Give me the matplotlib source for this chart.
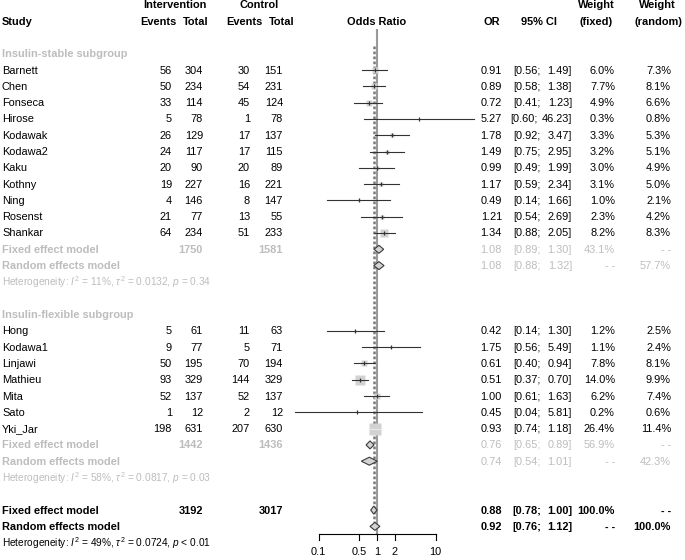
import numpy as np
import matplotlib
matplotlib.use("Agg")
import matplotlib.pyplot as plt

plt.rcParams['font.family'] = ['Liberation Sans', 'DejaVu Sans']
plt.rcParams['mathtext.fontset'] = 'custom'
plt.rcParams['mathtext.rm'] = 'Liberation Sans'
plt.rcParams['mathtext.it'] = 'Liberation Sans:italic'

# ---- data ----
studies1 = ['Barnett', 'Chen', 'Fonseca', 'Hirose', 'Kodawak', 'Kodawa2', 'Kaku',
            'Kothny', 'Ning', 'Rosenst', 'Shankar']
ev_int1 = [56, 50, 33, 5, 26, 24, 20, 19, 4, 21, 64]
tot_int1 = [304, 234, 114, 78, 129, 117, 90, 227, 146, 77, 234]
ev_ctl1 = [30, 54, 45, 1, 17, 17, 20, 16, 8, 13, 51]
tot_ctl1 = [151, 231, 124, 78, 137, 115, 89, 221, 147, 55, 233]
or1 = [0.91, 0.89, 0.72, 5.27, 1.78, 1.49, 0.99, 1.17, 0.49, 1.21, 1.34]
lo1 = [0.56, 0.58, 0.41, 0.60, 0.92, 0.75, 0.49, 0.59, 0.14, 0.54, 0.88]
hi1 = [1.49, 1.38, 1.23, 46.23, 3.47, 2.95, 1.99, 2.34, 1.66, 2.69, 2.05]
wf1 = [6.0, 7.7, 4.9, 0.3, 3.3, 3.2, 3.0, 3.1, 1.0, 2.3, 8.2]
wr1 = [7.3, 8.1, 6.6, 0.8, 5.3, 5.1, 4.9, 5.0, 2.1, 4.2, 8.3]

studies2 = ['Hong', 'Kodawa1', 'Linjawi', 'Mathieu', 'Mita', 'Sato', 'Yki_Jar']
ev_int2 = [5, 9, 50, 93, 52, 1, 198]
tot_int2 = [61, 77, 195, 329, 137, 12, 631]
ev_ctl2 = [11, 5, 70, 144, 52, 2, 207]
tot_ctl2 = [63, 71, 194, 329, 137, 12, 630]
or2 = [0.42, 1.75, 0.61, 0.51, 1.00, 0.45, 0.93]
lo2 = [0.14, 0.56, 0.40, 0.37, 0.61, 0.04, 0.74]
hi2 = [1.30, 5.49, 0.94, 0.70, 1.63, 5.81, 1.18]
wf2 = [1.2, 1.1, 7.8, 14.0, 6.2, 0.2, 26.4]
wr2 = [2.5, 2.4, 8.1, 9.9, 7.4, 0.6, 11.4]

DASH = '- -'
# pooled: (label, tot_int, tot_ctl, OR, lo, hi, w_fixed, w_random)
pooled1 = [('Fixed effect model', 1750, 1581, 1.08, 0.89, 1.30, '43.1%', DASH),
           ('Random effects model', None, None, 1.08, 0.88, 1.32, DASH, '57.7%')]
pooled2 = [('Fixed effect model', 1442, 1436, 0.76, 0.65, 0.89, '56.9%', DASH),
           ('Random effects model', None, None, 0.74, 0.54, 1.01, DASH, '42.3%')]
pooled_all = [('Fixed effect model', 3192, 3017, 0.88, 0.78, 1.00, '100.0%', DASH),
              ('Random effects model', None, None, 0.92, 0.76, 1.12, DASH, '100.0%')]
het1 = r"Heterogeneity: $I^2$ = 11%, $\tau^2$ = 0.0132, $p$ = 0.34"
het2 = r"Heterogeneity: $I^2$ = 58%, $\tau^2$ = 0.0817, $p$ = 0.03"
het_all = r"Heterogeneity: $I^2$ = 49%, $\tau^2$ = 0.0724, $p$ < 0.01"
ticks = [0.1, 0.5, 1, 2, 10]

# ---- layout ----
W, H = 685, 560
fig = plt.figure(figsize=(W / 100, H / 100), dpi=100)
tab = fig.add_axes([0, 0, 1, 1])
tab.set_xlim(0, W)
tab.set_ylim(H, 0)
tab.axis('off')
fp = fig.add_axes([318.5 / W, 0, 117 / W, 1])
fp.set_xscale('log')
fp.set_xlim(0.1, 10)
fp.set_ylim(H, 0)
fp.axis('off')
fp.patch.set_alpha(0)

FS = 7.9
HFS = 7.3
GREY = '#bdbdbd'
PXDEC = 58.5  # pixels per decade on the OR axis


def ry(r):
    return 70 + 16.3 * r


def txt(x, r, s, ha='left', color='black', bold=False, size=FS):
    tab.text(x, ry(r) + 0.5, s, ha=ha, va='center', fontsize=size, color=color,
             fontweight='bold' if bold else 'normal')


# headers
txt(174.5, -4, 'Intervention', ha='center', bold=True)
txt(259.5, -4, 'Control', ha='center', bold=True)
txt(2, -3, 'Study', bold=True)
txt(158, -3, 'Events', ha='center', bold=True)
txt(195.5, -3, 'Total', ha='center', bold=True)
txt(244.5, -3, 'Events', ha='center', bold=True)
txt(281.5, -3, 'Total', ha='center', bold=True)
txt(377, -3, 'Odds Ratio', ha='center', bold=True)
txt(492, -3, 'OR', ha='center', bold=True)
txt(539, -3, '95% CI', ha='center', bold=True)
txt(596.5, -4, 'Weight', ha='center', bold=True)
txt(596.5, -3, '(fixed)', ha='center', bold=True)
txt(657, -4, 'Weight', ha='center', bold=True)
txt(658, -3, '(random)', ha='center', bold=True)


def num_cols(r, o, l, h, wf, wr, color='black', bold=False):
    shift = 3 if h >= 10 else 0
    txt(502, r, f'{o:.2f}', ha='right', color=color, bold=bold)
    txt(541 - shift, r, f'[{l:.2f};', ha='right', color=color, bold=bold)
    txt(572, r, f'{h:.2f}]', ha='right', color=color, bold=bold)
    txt(615, r, wf, ha='right', color=color, bold=bold)
    txt(671, r, wr, ha='right', color=color, bold=bold)


def study_block(r0, names, ei, ti, ec, tc, ors, los, his, wfs, wrs):
    for i, name in enumerate(names):
        r = r0 + i
        y = ry(r)
        txt(2, r, name)
        txt(172, r, str(ei[i]), ha='right')
        txt(203, r, str(ti[i]), ha='right')
        txt(250, r, str(ec[i]), ha='right')
        txt(283, r, str(tc[i]), ha='right')
        num_cols(r, ors[i], los[i], his[i], f'{wfs[i]:.1f}%', f'{wrs[i]:.1f}%')
        side_px = 2.5 * np.sqrt(wfs[i])
        fp.plot([ors[i]], [y], marker='s', ms=side_px * 0.72, color='#d2d2d2',
                mec='none', zorder=3, clip_on=False)
        half = side_px / 2 / PXDEC
        inside = (np.log10(los[i]) > np.log10(ors[i]) - half and
                  np.log10(his[i]) < np.log10(ors[i]) + half)
        fp.plot([los[i], his[i]], [y, y], color='#e8e8e8' if inside else '#333333',
                lw=0.8, zorder=4, clip_on=False)
        if not inside:
            fp.plot([ors[i]], [y], marker='|', ms=3.2, mew=0.9, color='#333333',
                    zorder=5, clip_on=False)


def pooled_block(r0, rows, het, color, bold_nums):
    for i, (lab, ti, tc, o, l, h, wf, wr) in enumerate(rows):
        r = r0 + i
        y = ry(r)
        txt(2, r, lab, color=color, bold=True)
        if ti is not None:
            txt(203, r, str(ti), ha='right', color=color, bold=True)
            txt(283, r, str(tc), ha='right', color=color, bold=True)
        num_cols(r, o, l, h, wf, wr, color=color, bold=bold_nums)
        fp.fill([l, o, h, o], [y, y - 4, y, y + 4], facecolor='#d3d3d3',
                edgecolor='#3a3a3a', lw=0.8, zorder=6, clip_on=False)
    txt(2, r0 + 2, het, color=color, size=HFS)


txt(2, -1, 'Insulin-stable subgroup', color=GREY, bold=True)
study_block(0, studies1, ev_int1, tot_int1, ev_ctl1, tot_ctl1, or1, lo1, hi1, wf1, wr1)
pooled_block(11, pooled1, het1, GREY, False)

txt(2, 15, 'Insulin-flexible subgroup', color=GREY, bold=True)
study_block(16, studies2, ev_int2, tot_int2, ev_ctl2, tot_ctl2, or2, lo2, hi2, wf2, wr2)
pooled_block(23, pooled2, het2, GREY, False)

pooled_block(27, pooled_all, het_all, 'black', True)

# reference lines
fp.plot([1, 1], [30, 534], color='#9a9a9a', lw=1.5, zorder=2, clip_on=False)
fp.plot([pooled_all[0][3]] * 2, [46, 522], color='#7a7a7a', lw=1.8,
        ls=(0, (1.1, 0.9)), zorder=2, clip_on=False)

# x axis
fp.plot([ticks[0], ticks[-1]], [534, 534], color='black', lw=0.8, clip_on=False)
for t in ticks:
    fp.plot([t, t], [534, 540], color='black', lw=0.8, clip_on=False)
    fp.text(t, 552, f'{t:g}', ha='center', va='center', fontsize=FS)

fig.savefig('out.png', dpi=100)
